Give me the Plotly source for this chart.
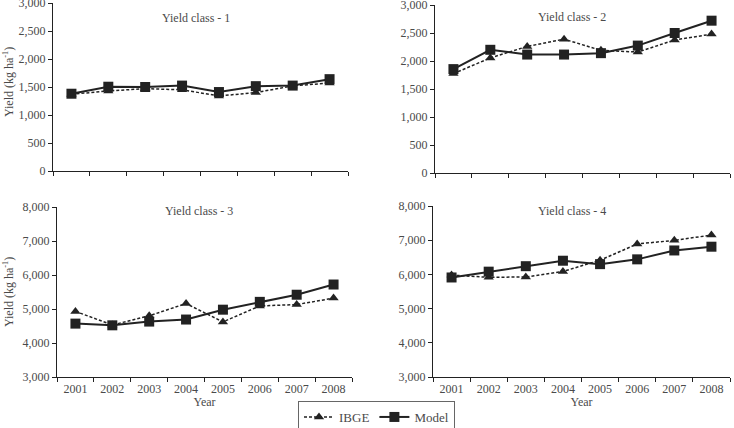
import plotly.graph_objects as go

years = ["2001", "2002", "2003", "2004", "2005", "2006", "2007", "2008"]

ibge_c1 = [1370, 1430, 1470, 1450, 1340, 1400, 1520, 1570]
model_c1 = [1380, 1505, 1500, 1525, 1410, 1515, 1525, 1640]
ibge_c2 = [1775, 2055, 2260, 2390, 2190, 2160, 2375, 2480]
model_c2 = [1855, 2200, 2115, 2115, 2140, 2275, 2500, 2720]
ibge_c3 = [4930, 4530, 4800, 5160, 4620, 5090, 5130, 5320]
model_c3 = [4570, 4520, 4630, 4690, 4980, 5210, 5420, 5720]
ibge_c4 = [5980, 5915, 5925, 6085, 6415, 6890, 6995, 7150]
model_c4 = [5910, 6080, 6240, 6400, 6300, 6440, 6700, 6810]

panel_titles = ["Yield class - 1", "Yield class - 2", "Yield class - 3", "Yield class - 4"]
y_ranges = [[0, 3000], [0, 3000], [3000, 8000], [3000, 8000]]
y_ticks = [[0, 500, 1000, 1500, 2000, 2500, 3000],
           [0, 500, 1000, 1500, 2000, 2500, 3000],
           [3000, 4000, 5000, 6000, 7000, 8000],
           [3000, 4000, 5000, 6000, 7000, 8000]]

W, H = 734, 448  # page is slightly taller than the window; bottom of legend is cropped like the reference
# panel pixel boxes: (left, right, top, bottom)
boxes = [(53, 348, 3, 171), (435, 730, 5, 173), (57, 352, 207, 377), (433, 730, 206, 377)]
title_pos = [(196, 18), (572, 17), (199, 211), (572, 211)]

FONT = "Liberation Serif"
TXT = "#4a4a4a"
LINE = "#222222"

fig = go.Figure()
data = [(ibge_c1, model_c1), (ibge_c2, model_c2), (ibge_c3, model_c3), (ibge_c4, model_c4)]
for i, (ib, mo) in enumerate(data):
    xa = "x" if i == 0 else f"x{i+1}"
    ya = "y" if i == 0 else f"y{i+1}"
    fig.add_trace(go.Scatter(x=years, y=ib, mode="lines+markers", name="IBGE",
                             xaxis=xa, yaxis=ya, showlegend=(i == 0),
                             line=dict(color=LINE, width=1.5, dash="3px,2px"),
                             marker=dict(symbol="triangle-up", size=9, color=LINE)))
    fig.add_trace(go.Scatter(x=years, y=mo, mode="lines+markers", name="Model",
                             xaxis=xa, yaxis=ya, showlegend=(i == 0),
                             line=dict(color=LINE, width=2),
                             marker=dict(symbol="square", size=10, color=LINE)))

layout = dict(width=W, height=H, margin=dict(l=0, r=0, t=0, b=0, autoexpand=False),
              plot_bgcolor="white", paper_bgcolor="white",
              font=dict(family=FONT, size=12, color=TXT))
annotations = []
for i, (l, r, t, b) in enumerate(boxes):
    sfx = "" if i == 0 else str(i + 1)
    xa = dict(
        domain=[l / W, r / W], anchor="y" + sfx, type="category", automargin=False,
        tickson="boundaries", ticks="outside", ticklen=4, tickcolor=LINE,
        showline=True, linecolor=LINE, linewidth=1.2, showgrid=False,
        showticklabels=(i >= 2), tickfont=dict(family=FONT, size=12, color=TXT),
        range=[-0.5, 7.5], fixedrange=True)
    if i >= 2:
        xa["title"] = dict(text="Year", font=dict(family=FONT, size=12, color=TXT), standoff=0)
    layout["xaxis" + sfx] = xa
    layout["yaxis" + sfx] = dict(
        domain=[1 - b / H, 1 - t / H], anchor="x" + sfx, range=y_ranges[i], automargin=False,
        tickvals=y_ticks[i], tickformat=",", ticks="outside", ticklen=4,
        ticklabeloverflow="allow",
        tickcolor=LINE, showline=True, linecolor=LINE, linewidth=1.2,
        showgrid=False, zeroline=False,
        tickfont=dict(family=FONT, size=12, color=TXT))
    cx, cy = title_pos[i]
    annotations.append(dict(text=panel_titles[i], xref="paper", yref="paper",
                            x=cx / W, y=1 - cy / H, showarrow=False,
                            xanchor="center", yanchor="middle",
                            font=dict(family=FONT, size=12, color=TXT)))

for cy in [82, 292]:
    annotations.append(dict(text="Yield (kg ha<sup>-1</sup>)", xref="paper", yref="paper",
                            x=8 / W, y=1 - cy / H, textangle=-90, showarrow=False,
                            xanchor="center", yanchor="middle",
                            font=dict(family=FONT, size=12, color=TXT)))

layout["annotations"] = annotations
layout["showlegend"] = True
layout["legend"] = dict(orientation="h", x=298 / W, y=1 - 401 / H, xanchor="left", yanchor="top",
                        bordercolor="#666666", borderwidth=1, bgcolor="white",
                        font=dict(family=FONT, size=13, color=TXT), itemwidth=30,
                        tracegroupgap=0)
fig.update_layout(**layout)
fig.write_html("out.html", post_script="document.body.style.margin='0';document.body.style.overflow='hidden';document.documentElement.style.overflow='hidden';")
